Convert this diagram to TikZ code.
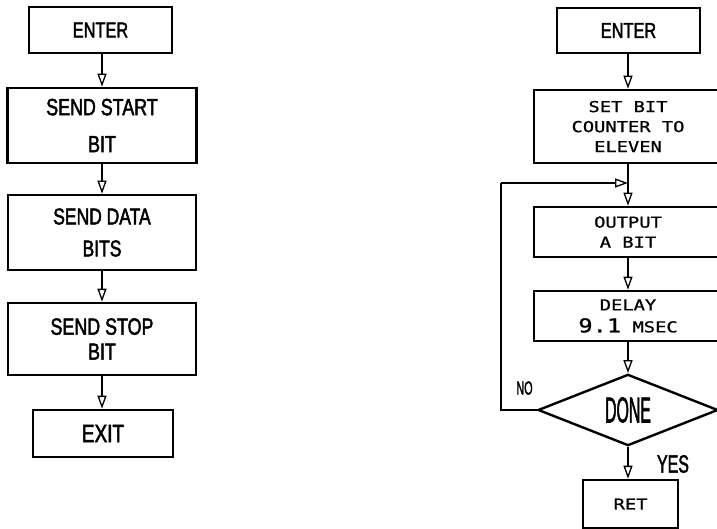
\documentclass[tikz,border=0pt]{standalone}
\usepackage{fontspec}
\usepackage{graphicx}
\usetikzlibrary{arrows.meta,shapes.geometric}
\setmainfont{Liberation Sans}
\newfontfamily\cfont[FakeStretch=0.76,FakeBold=2]{Liberation Sans}
\newfontfamily\mfont[FakeStretch=1.25,FakeBold=1]{DejaVu Sans Mono}
\begin{document}
\begin{tikzpicture}[x=1pt,y=-1pt,
  box/.style={draw, line width=2.6pt, inner sep=0pt, align=center},
  big/.style={font=\cfont\fontsize{#1}{#1}\selectfont},
  small/.style={font=\mfont\fontsize{15}{20}\selectfont},
  flow/.style={line width=1.3pt, -{Triangle[open,length=13pt,width=9pt,line width=1.3pt]}},
  ln/.style={line width=1.3pt},
  lbl/.style={inner sep=0pt},
]
\useasboundingbox (0,0) rectangle (717,529);

% left flowchart
\node[box, big=21.5, minimum width=143pt, minimum height=46pt] (en1) at (100.5,30) {ENTER};
\node[box, font=\cfont\fontsize{23.5}{37}\selectfont, minimum width=189pt, minimum height=75pt] (start) at (102,125.5) {SEND START\\BIT};
\node[box, font=\cfont\fontsize{23}{32}\selectfont, minimum width=188pt, minimum height=75pt] (data) at (102,232.5) {SEND DATA\\BITS};
\node[box, font=\cfont\fontsize{23.5}{25}\selectfont, minimum width=188pt, minimum height=72pt] (stop) at (102,339) {SEND STOP\\BIT};
\node[box, big=25, minimum width=140pt, minimum height=47pt] (exit) at (103,433.5) {EXIT};

\draw[flow] (en1.south -| start.north) -- (start.north);
\draw[flow] (start) -- (data);
\draw[flow] (data) -- (stop);
\draw[flow] (stop.south) -- (stop.south |- exit.north);

% right flowchart
\node[box, big=21.5, minimum width=143pt, minimum height=45pt] (en2) at (628.5,30.5) {ENTER};
\node[box, small, minimum width=188pt, minimum height=73pt] (set) at (628,126.5) {SET BIT\\COUNTER TO\\ELEVEN};
\node[box, small, minimum width=188pt, minimum height=50pt] (out) at (628,232) {OUTPUT\\A BIT};
\node[box, font=\mfont\fontsize{15}{22}\selectfont, minimum width=188pt, minimum height=50pt] (delay) at (628,316) {DELAY\\{\fontsize{19}{19}\selectfont 9.1} MSEC};
\node[draw, diamond, line width=2.4pt, inner sep=0pt, minimum width=180pt, minimum height=71pt, font=\cfont\fontsize{36}{36}\selectfont] (dn) at (628,410) {\scalebox{0.58}[1]{DONE}};
\node[box, small, minimum width=95pt, minimum height=48pt] (ret) at (630.5,504) {RET};

\node[lbl, font=\cfont\fontsize{19}{19}\selectfont] (no) at (524.5,388) {\scalebox{0.75}[1]{NO}};
\node[lbl, font=\cfont\fontsize{25}{25}\selectfont] (yes) at (673,464) {\scalebox{0.84}[1]{YES}};

\coordinate (jn) at (628,183);
\coordinate (lc) at (501,183);

\draw[flow] (en2.south -| set.north) -- (set.north);
\draw[flow] (set) -- (out);
\draw[flow] (out) -- (delay);
\draw[flow] (delay) -- (dn.north);
\draw[flow] (dn.south) -- (dn.south |- ret.north);
\draw[ln] (dn.west) -| (lc);
\draw[flow] (lc) -- (jn);
\end{tikzpicture}
\end{document}
